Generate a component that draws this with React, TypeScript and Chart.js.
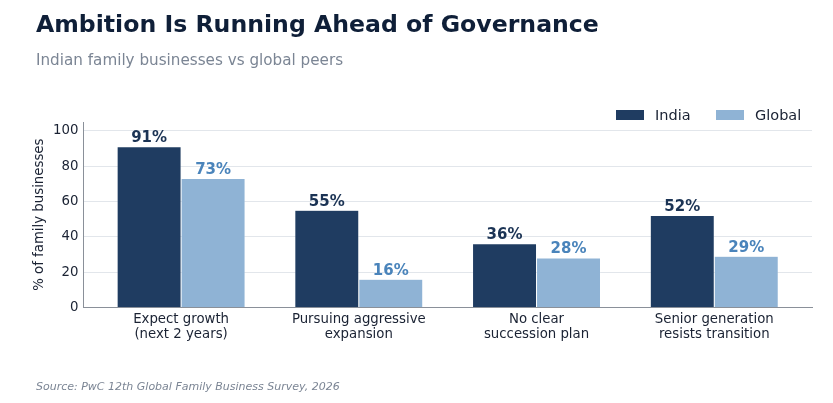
import React, { useEffect, useRef } from 'react';
import Chart from 'chart.js/auto';

const categories = [
  ['Expect growth', '(next 2 years)'],
  ['Pursuing aggressive', 'expansion'],
  ['No clear', 'succession plan'],
  ['Senior generation', 'resists transition'],
];
const indiaValues = [91, 55, 36, 52];
const globalValues = [73, 16, 28, 29];
const yTicks = [0, 20, 40, 60, 80, 100];

const INDIA = '#1f3c61';
const GLOBAL = '#8fb3d5';
const FONT = '"DejaVu Sans", sans-serif';

// titles, legend, source and value labels drawn on the canvas
const extras = {
  id: 'extras',
  afterDraw(chart: Chart) {
    const { ctx } = chart;
    ctx.save();
    ctx.textBaseline = 'alphabetic';
    ctx.textAlign = 'left';

    ctx.fillStyle = '#0f1f38';
    ctx.font = `bold 23.6px ${FONT}`;
    ctx.fillText('Ambition Is Running Ahead of Governance', 36, 32);

    ctx.fillStyle = '#7b8594';
    ctx.font = `15.2px ${FONT}`;
    ctx.fillText('Indian family businesses vs global peers', 36, 65);

    ctx.font = `italic 11px ${FONT}`;
    ctx.fillText('Source: PwC 12th Global Family Business Survey, 2026', 36, 390);

    // legend
    ctx.font = `14.5px ${FONT}`;
    ctx.textBaseline = 'middle';
    const items = [
      { label: 'India', color: INDIA, x: 616 },
      { label: 'Global', color: GLOBAL, x: 716 },
    ];
    items.forEach((it) => {
      ctx.fillStyle = it.color;
      ctx.fillRect(it.x, 110, 28, 10);
      ctx.fillStyle = '#1a2233';
      ctx.fillText(it.label, it.x + 39, 116);
    });

    // value labels
    ctx.textAlign = 'center';
    ctx.textBaseline = 'bottom';
    ctx.font = `bold 15px ${FONT}`;
    chart.data.datasets.forEach((ds, di) => {
      const meta = chart.getDatasetMeta(di);
      ctx.fillStyle = di === 0 ? '#1b3354' : '#4a84bb';
      meta.data.forEach((bar: any, i) => {
        const v = (ds.data[i] as any).y;
        ctx.fillText(`${v}%`, bar.x, bar.y - 1);
      });
    });
    ctx.restore();
  },
};

const App = () => {
  const canvasRef = useRef<HTMLCanvasElement>(null);

  useEffect(() => {
    const canvas = canvasRef.current;
    let chart: Chart | null = null;

    if (canvas) {
      chart = new Chart(canvas, {
        type: 'bar',
        data: {
          datasets: [
            {
              label: 'India',
              data: indiaValues.map((v, i) => ({ x: i, y: v })),
              backgroundColor: INDIA,
              borderColor: 'rgba(255,255,255,0.5)',
              borderWidth: 0.5,
              categoryPercentage: 0.72,
              barPercentage: 1,
            },
            {
              label: 'Global',
              data: globalValues.map((v, i) => ({ x: i, y: v })),
              backgroundColor: GLOBAL,
              borderColor: 'rgba(255,255,255,0.5)',
              borderWidth: 0.5,
              categoryPercentage: 0.72,
              barPercentage: 1,
            },
          ],
        },
        plugins: [extras],
        options: {
          responsive: true,
          maintainAspectRatio: false,
          animation: false,
          layout: { padding: { top: 122, right: 21, bottom: 57, left: 30 } },
          font: { family: FONT },
          plugins: {
            legend: { display: false },
            tooltip: { enabled: false },
          },
          scales: {
            x: {
              type: 'linear',
              min: -0.55,
              max: 3.55,
              offset: false,
              afterBuildTicks: (scale: any) => {
                scale.ticks = categories.map((_, i) => ({ value: i }));
              },
              grid: { display: false, drawTicks: false },
              border: { color: '#8a9099', width: 1 },
              ticks: {
                color: '#1a2233',
                font: { family: FONT, size: 13.3, lineHeight: 1.15 },
                padding: 4,
                maxRotation: 0,
                autoSkip: false,
                callback: (value: any) => categories[value as number],
              },
            },
            y: {
              min: 0,
              max: 105,
              afterBuildTicks: (scale: any) => {
                scale.ticks = yTicks.map((v) => ({ value: v }));
              },
              grid: { color: '#e2e6eb', drawTicks: false },
              border: { color: '#8a9099', width: 1 },
              ticks: {
                color: '#1a2233',
                font: { family: FONT, size: 13.3 },
                padding: 5,
              },
              title: {
                display: true,
                text: '% of family businesses',
                color: '#1a2233',
                font: { family: FONT, size: 13.3 },
                padding: { top: 2, bottom: 0 },
              },
            },
          },
        },
      });
    }

    return () => {
      if (chart) {
        chart.destroy();
      }
    };
  }, []);

  return (
    <div style={{ position: 'absolute', left: 0, top: 0, width: 833, height: 403, background: '#fff' }}>
      <canvas ref={canvasRef}></canvas>
    </div>
  );
};

export default App;
